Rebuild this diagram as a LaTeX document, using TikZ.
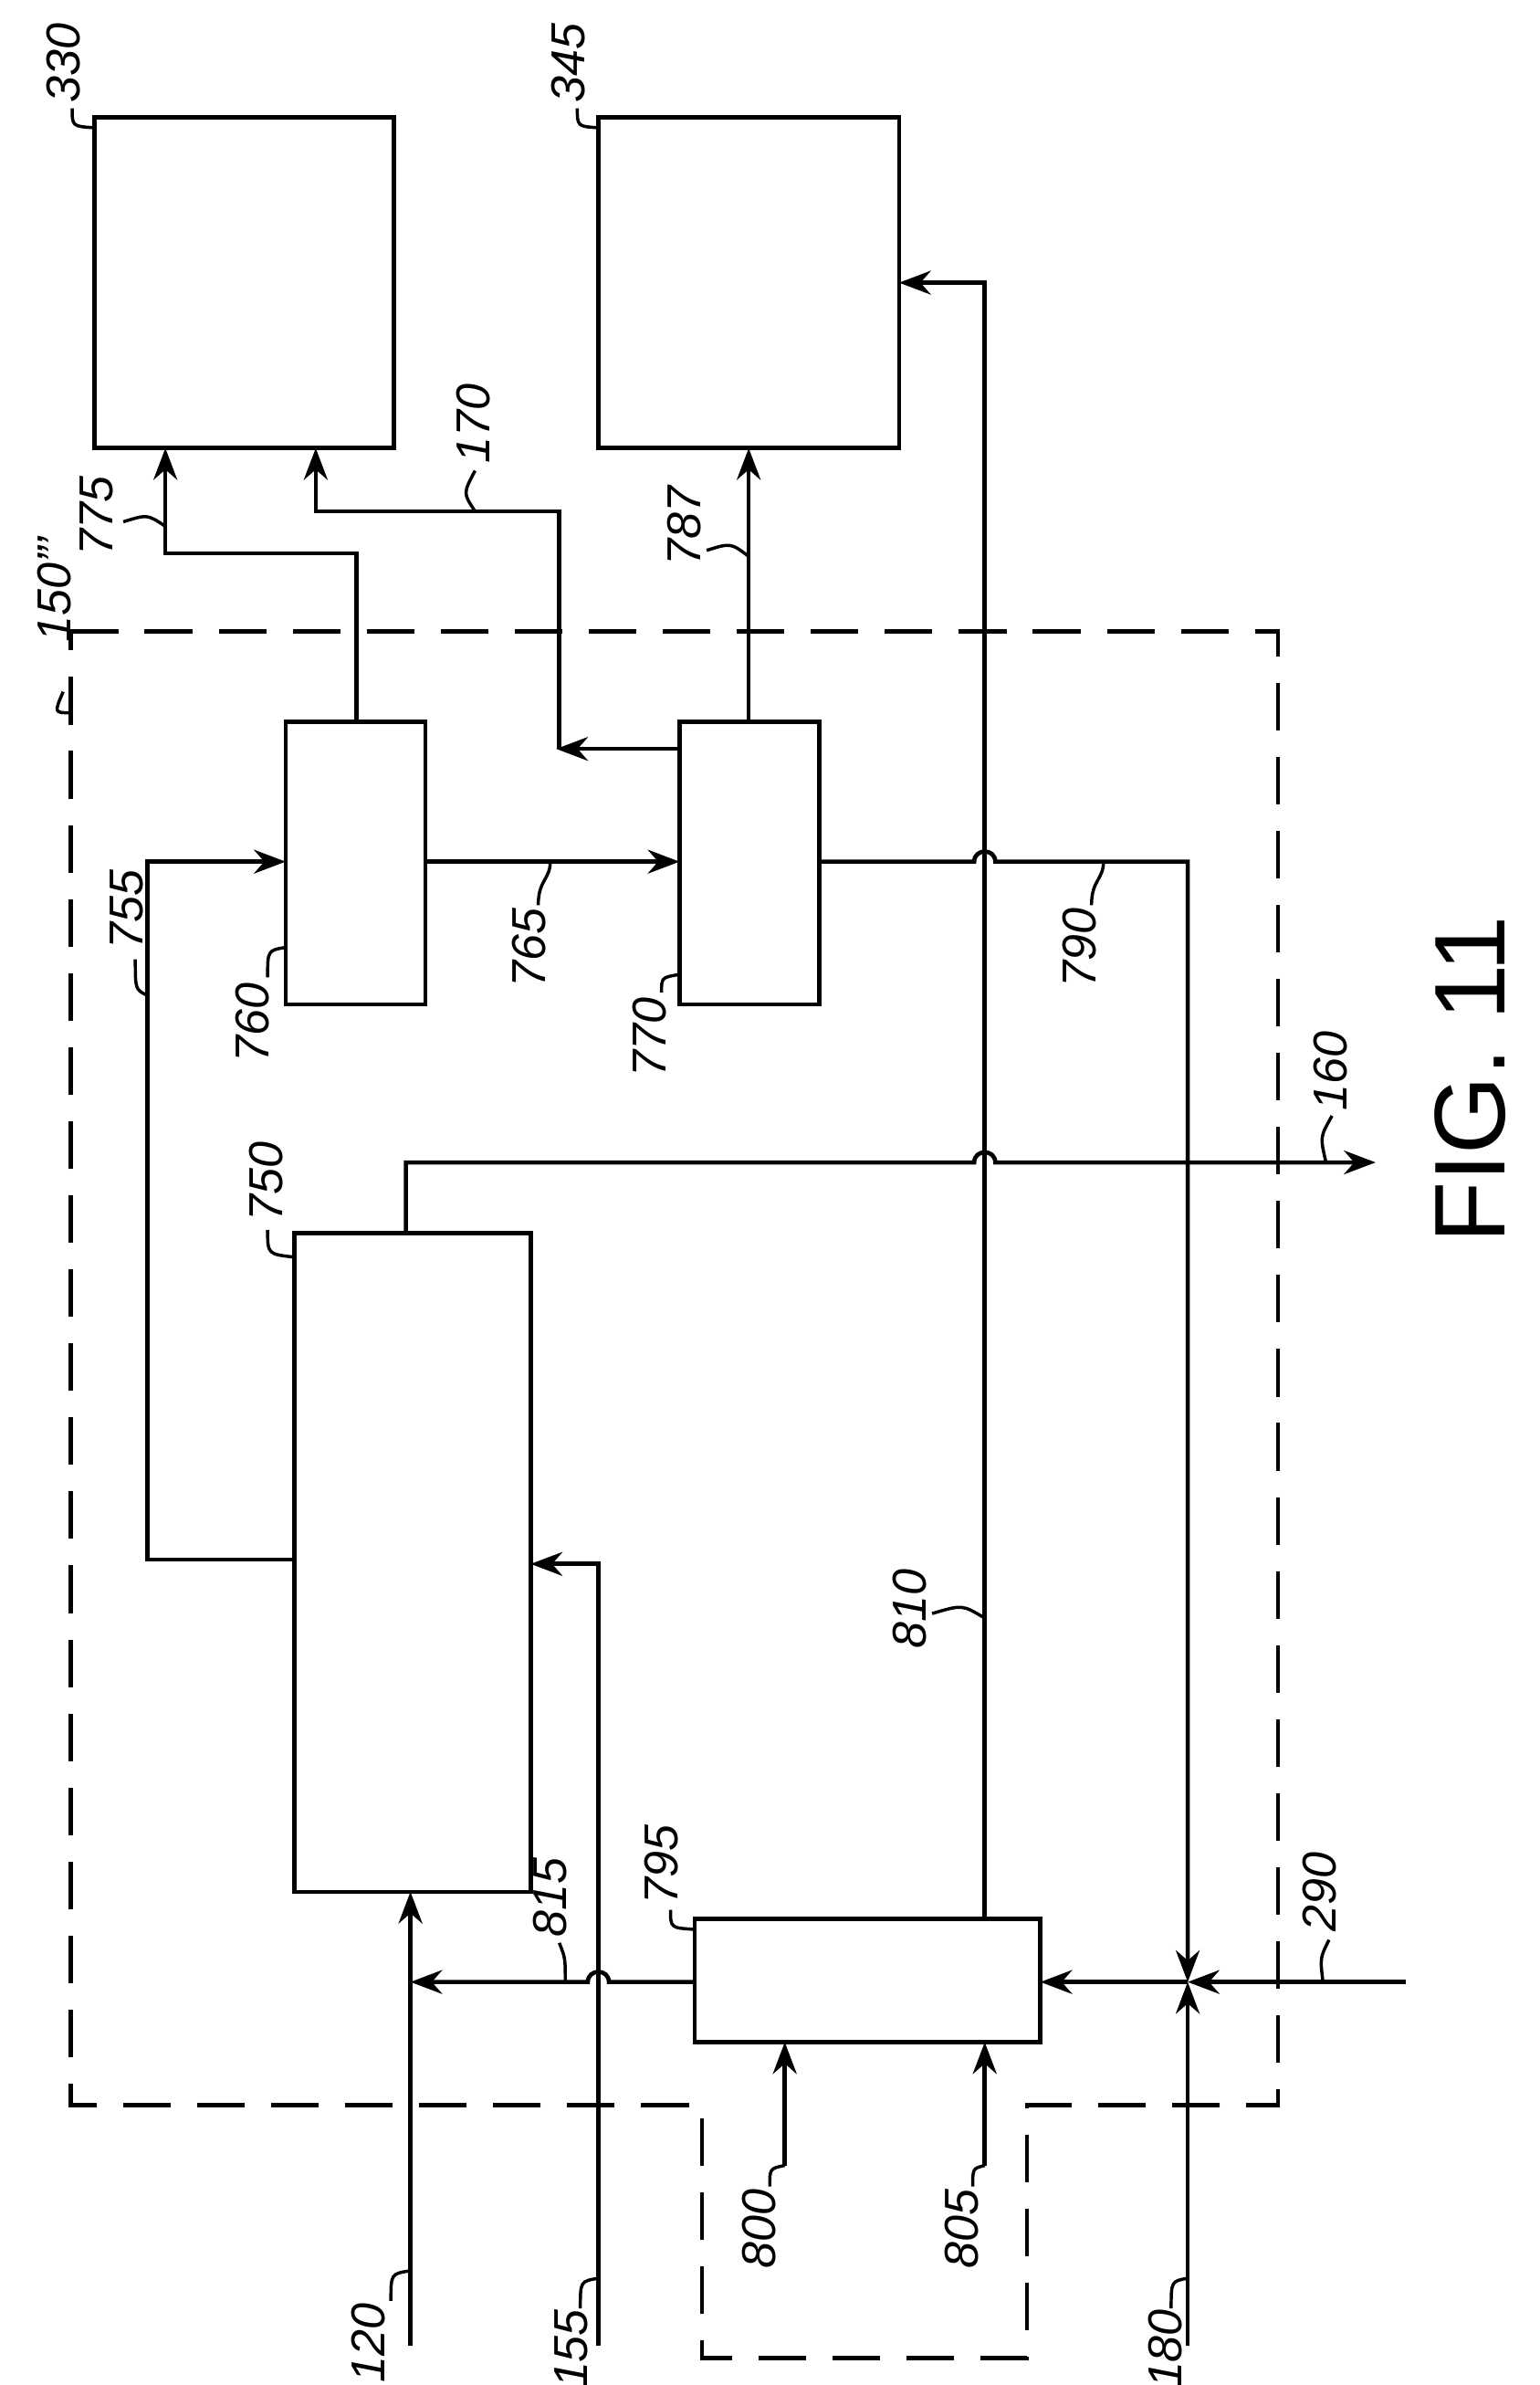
\documentclass[tikz,border=0pt]{standalone}
\usepackage{fontspec}
\setmainfont{Liberation Sans}
\usetikzlibrary{arrows.meta}
\begin{document}
\begin{tikzpicture}[x=0.01cm,y=-0.01cm,line width=0.8pt,
 box/.style={draw,line width=0.8pt},
 ar/.style={-{Stealth[length=6pt,width=4.5pt]}},
 lbl/.style={rotate=90,font=\itshape\fontsize{9}{10}\selectfont,inner sep=0pt},
 ld/.style={line width=0.6pt}]
\useasboundingbox (0,0) rectangle (1024,1586);
% boxes
\draw[box] (63,78) rectangle (262,298);
\draw[box] (398,78) rectangle (598,298);
\draw[box] (190,480) rectangle (283,668);
\draw[box] (452,480) rectangle (545,668);
\draw[box] (196,820) rectangle (353,1258);
\draw[box] (462,1276) rectangle (692,1358);
% dashed boundary
\draw[dashed,dash pattern=on 9pt off 5pt] (47,420) -- (850,420) -- (850,1400) -- (683,1400) -- (683,1568) -- (467,1568) -- (467,1400) -- (47,1400) -- cycle;
% connectors
\draw[ar] (273,1560) -- (273,1258);
\draw[ar] (462,1318) -- (405,1318) .. controls (405,1309) and (391,1309) .. (391,1318) -- (273,1318);
\draw[ar] (398,1560) -- (398,1040) -- (353,1040);
\draw[ar] (522,1440) -- (522,1358);
\draw[ar] (655,1440) -- (655,1358);
\draw[ar] (790,1560) -- (790,1318);
\draw[ar] (935,1318) -- (790,1318);
\draw[ar] (790,1318) -- (692,1318);
\draw[ar] (545,573) -- (648,573) .. controls (648,564) and (662,564) .. (662,573) -- (790,573) -- (790,1318);
\draw[ar] (655,1276) -- (655,188) -- (598,188);
\draw[ar] (270,820) -- (270,773) -- (648,773) .. controls (648,764) and (662,764) .. (662,773) -- (915,773);
\draw[ar] (196,1037) -- (98,1037) -- (98,573) -- (190,573);
\draw[ar] (283,573) -- (452,573);
\draw[ar] (237,480) -- (237,368) -- (110,368) -- (110,298);
\draw[ar] (452,498) -- (370,498);
\draw[ar] (372,498) -- (372,340) -- (210,340) -- (210,298);
\draw[ar] (498,480) -- (498,298);
% labels and leaders
\node[lbl] at (42,42) {330};   \draw[ld] (48,72) .. controls (48,84) .. (63,85);
\node[lbl] at (378,42) {345};  \draw[ld] (384,72) .. controls (384,84) .. (398,85);
\node[lbl] at (36,392) {150'''}; \draw[ld] (42,460) .. controls (36,474) .. (47,474);
\node[lbl] at (64,343) {775};  \draw[ld] (82,347) .. controls (98,342) .. (110,350);
\node[lbl] at (315,282) {170}; \draw[ld] (316,313) .. controls (308,328) .. (316,340);
\node[lbl] at (455,350) {787}; \draw[ld] (470,366) .. controls (486,361) .. (498,370);
\node[lbl] at (84,605) {755};  \draw[ld] (90,638) .. controls (90,658) .. (98,662);
\node[lbl] at (168,680) {760}; \draw[ld] (178,650) .. controls (178,632) .. (190,630);
\node[lbl] at (352,630) {765}; \draw[ld] (358,602) .. controls (358,585) and (366,585) .. (366,573);
\node[lbl] at (432,690) {770}; \draw[ld] (440,660) .. controls (440,650) .. (452,648);
\node[lbl] at (718,630) {790}; \draw[ld] (726,602) .. controls (726,585) and (734,585) .. (734,573);
\node[lbl] at (885,712) {160}; \draw[ld] (886,742) .. controls (878,756) .. (882,773);
\node[lbl] at (177,786) {750}; \draw[ld] (178,818) .. controls (178,834) .. (196,836);
\node[lbl] at (605,1070) {810}; \draw[ld] (620,1073) .. controls (640,1067) .. (655,1076);
\node[lbl] at (440,1240) {795}; \draw[ld] (446,1270) .. controls (446,1282) .. (462,1283);
\node[lbl] at (366,1262) {815}; \draw[ld] (372,1292) .. controls (376,1302) .. (376,1318);
\node[lbl] at (878,1258) {290}; \draw[ld] (884,1290) .. controls (878,1302) .. (880,1318);
\node[lbl] at (245,1558) {120}; \draw[ld] (260,1530) .. controls (260,1512) .. (273,1510);
\node[lbl] at (380,1562) {155}; \draw[ld] (386,1535) .. controls (386,1517) .. (398,1515);
\node[lbl] at (505,1482) {800}; \draw[ld] (512,1454) .. controls (512,1442) .. (522,1440);
\node[lbl] at (640,1482) {805}; \draw[ld] (647,1454) .. controls (647,1442) .. (655,1440);
\node[lbl] at (775,1562) {180}; \draw[ld] (779,1535) .. controls (779,1517) .. (790,1515);
\node[rotate=90,font=\fontsize{19}{22}\selectfont,inner sep=0pt] at (978,718) {FIG. 11};
\end{tikzpicture}
\end{document}
